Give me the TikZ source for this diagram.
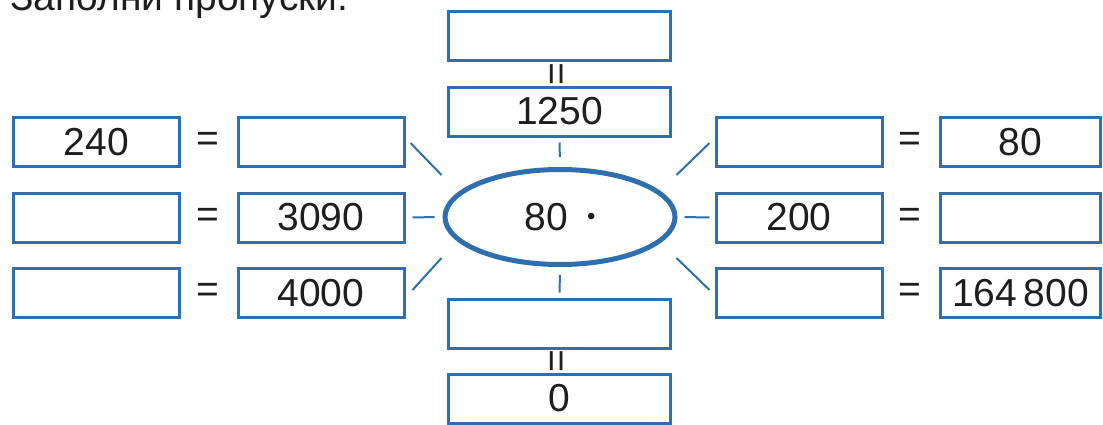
\documentclass[tikz,border=0pt]{standalone}
\usepackage{fontspec}
\setmainfont{Liberation Sans}
\usepackage{tikz}
\usetikzlibrary{calc,shapes.geometric}
\definecolor{boxblue}{HTML}{2F6FB0}
\definecolor{inkgray}{HTML}{1E1E1E}

\tikzset{
  numbox/.style={draw=boxblue,line width=3pt,minimum width=166pt,minimum height=49pt,
    inner sep=0pt,text=inkgray,font=\fontsize{39}{46}\selectfont},
  widebox/.style={numbox,minimum width=222pt},
  eqsign/.style={text=inkgray,inner sep=0pt,font=\fontsize{39}{46}\selectfont},
  spoke/.style={draw=boxblue,line width=2pt}
}

\begin{document}
\begin{tikzpicture}[x=1pt,y=-1pt]
  \useasboundingbox (0,0) rectangle (1103,424);
  \clip (0,0) rectangle (1103,424);
  % Title (cut at the top edge)
  \node[anchor=base west,inner sep=0pt,text=inkgray,font=\fontsize{39}{46}\selectfont]
    (title) at (10,10) {Заполни пропуски.};
  % Left part
  \node[numbox] (l1a) at (96.5,142) {240};
  \node[eqsign] (eqL1) at (208,142) {=};
  \node[numbox] (l1b) at (321,142) {};
  \node[numbox] (l2a) at (96.5,217.5) {};
  \node[eqsign] (eqL2) at (208,217.5) {=};
  \node[numbox] (l2b) at (321,217.5) {3090};
  \node[numbox] (l3a) at (96.5,293) {};
  \node[eqsign] (eqL3) at (208,293) {=};
  \node[numbox] (l3b) at (321,293) {4000};
  % Centre column
  \node[widebox] (t1) at (559.5,35.5) {};
  \node[eqsign,rotate=90] (eqT) at (560,74) {=};
  \node[widebox] (t2) at (559.5,111.5) {1250};
  \node[draw=boxblue,line width=5pt,ellipse,minimum width=230pt,minimum height=95pt,
    inner sep=0pt,text=inkgray,font=\fontsize{39}{46}\selectfont]
    (ell) at (560,217) {80\hspace{0.5em}\raisebox{6pt}{\fontsize{24}{24}\selectfont •}};
  \node[widebox] (b1) at (559.5,323.5) {};
  \node[eqsign,rotate=90] (eqB) at (560,361) {=};
  \node[widebox] (b2) at (559.5,398.5) {0};
  % Right part
  \node[numbox] (r1a) at (799,142) {};
  \node[eqsign] (eqR1) at (910,142) {=};
  \node[numbox,minimum width=160pt] (r1b) at (1020.5,142) {80};
  \node[numbox] (r2a) at (799,217.5) {200};
  \node[eqsign] (eqR2) at (910,217.5) {=};
  \node[numbox,minimum width=160pt] (r2b) at (1020.5,217.5) {};
  \node[numbox] (r3a) at (799,293) {};
  \node[eqsign] (eqR3) at (910,293) {=};
  \node[numbox,minimum width=160pt] (r3b) at (1020.5,293) {164\,800};
  % Spokes round the ellipse
  \draw[spoke,shorten <=5pt,shorten >=10pt] (t2.south) -- (ell.north);
  \draw[spoke,shorten <=8pt,shorten >=5pt] (ell.south) -- (b1.north);
  \draw[spoke] ($(l1b.east)+(5,1)$) -- ($(ell.west)+(-1,-42)$);
  \draw[spoke,shorten <=7pt,shorten >=8pt] (l2b.east) -- (ell.west);
  \draw[spoke] ($(l3b.east)+(7,-3)$) -- ($(ell.west)+(-1,41)$);
  \draw[spoke] ($(ell.east)+(-1,-42)$) -- ($(r1a.west)+(-5,1)$);
  \draw[spoke,shorten <=7pt,shorten >=5pt] (ell.east) -- (r2a.west);
  \draw[spoke] ($(ell.east)+(-1,41)$) -- ($(r3a.west)+(-5,-3)$);
\end{tikzpicture}
\end{document}
